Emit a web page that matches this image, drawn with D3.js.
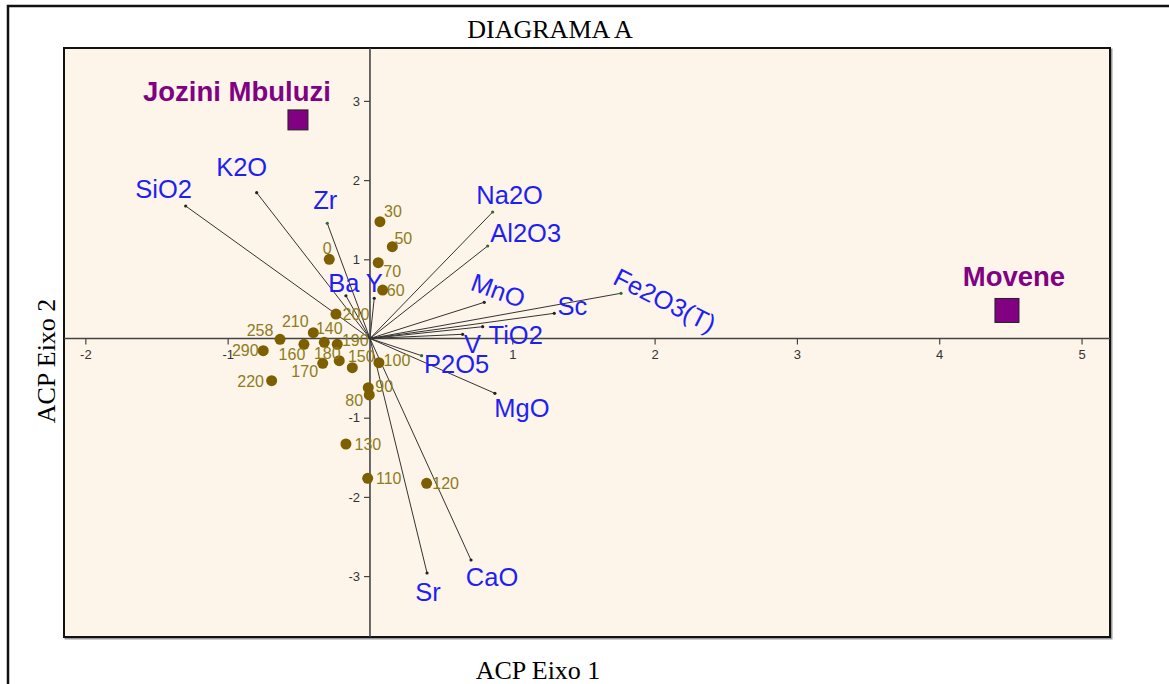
<!DOCTYPE html>
<html>
<head>
<meta charset="utf-8">
<script src="https://cdn.jsdelivr.net/npm/d3@7"></script>
<style>
  html, body { margin: 0; padding: 0; background: #fff; }
  svg { display: block; }
</style>
</head>
<body>
<svg id="chart" width="1169" height="684"></svg>
<script>
// ---------- DATA ----------
const sampleNames = ["0","30","50","70","60","200","210","258","140","190","160","290","180","170","150","100","220","90","80","130","110","120"];
const sampleX = [-0.286,0.070,0.157,0.058,0.089,-0.239,-0.398,-0.632,-0.321,-0.230,-0.464,-0.750,-0.216,-0.332,-0.124,0.063,-0.691,-0.012,-0.005,-0.169,-0.016,0.398];
const sampleY = [1.000,1.475,1.159,0.957,0.612,0.309,0.073,-0.010,-0.048,-0.073,-0.073,-0.154,-0.280,-0.313,-0.369,-0.306,-0.533,-0.621,-0.713,-1.332,-1.765,-1.828];

const varNames = ["SiO2","K2O","Zr","Ba","Y","Na2O","Al2O3","MnO","Fe2O3(T)","Sc","TiO2","V","P2O5","MgO","CaO","Sr"];
const varX = [-1.295,-0.796,-0.300,-0.169,0.030,0.862,0.827,0.803,1.764,1.295,0.792,0.651,0.363,0.878,0.710,0.401];
const varY = [1.673,1.841,1.455,0.540,0.508,1.597,1.168,0.457,0.571,0.318,0.149,0.053,-0.217,-0.692,-2.797,-2.961];

const groupNames = ["Jozini Mbuluzi","Movene"];
const groupX = [-0.506, 4.476];
const groupY = [2.76, 0.354];

const xTicks = [-2,-1,1,2,3,4,5];
const yTicks = [-3,-2,-1,1,2,3];

// ---------- LAYOUT (label offsets in px, rotation) ----------
const sampleLabelOffset = {
  "0":[-2,-11],"30":[13,-10],"50":[11,-8],"70":[14,9],"60":[13,0],"200":[20,0],
  "210":[-18,-11],"258":[-20,-9],"140":[5,-14],"190":[18,-4],"160":[-12,10],
  "290":[-18,0],"180":[-12,-7],"170":[-18,8],"150":[9,-11],"100":[18,-2],
  "220":[-21,1],"90":[16,-1],"80":[-15,5],"130":[22,0],"110":[21,0],"120":[19,0]
};
const varLabelOffset = {
  "SiO2":[-22,-17,0],"K2O":[-15,-26,0],"Zr":[-2,-23,0],"Ba":[-2,-13,0],"Y":[0,-15,0],
  "Na2O":[17,-17,0],"Al2O3":[38,-13,0],"MnO":[14,-12,20],"Fe2O3(T)":[44,7,27],
  "Sc":[18,-8,0],"TiO2":[33,8,0],"V":[10,10,0],"P2O5":[35,8,0],"MgO":[27,15,0],
  "CaO":[21,17,0],"Sr":[1,19,0]
};
const greenTips = new Set(["Zr","Na2O","Al2O3","Fe2O3(T)","P2O5"]);

// ---------- CHART ----------
const svg = d3.select("#chart");
const plot = {left: 64, top: 48, right: 1110, bottom: 637};

const x = d3.scaleLinear().domain([-2.15, 5.2]).range([plot.left, plot.right]);
const y = d3.scaleLinear().domain([-3.769, 3.668]).range([plot.bottom, plot.top]);

// outer frame (only top & left visible)
svg.append("rect").attr("x", 8).attr("y", 6).attr("width", 1200).attr("height", 720)
  .attr("fill", "none").attr("stroke", "#111").attr("stroke-width", 2.5);

// plot background & frame
svg.append("rect").attr("x", plot.left + 1.5).attr("y", plot.top + 1.5)
  .attr("width", plot.right - plot.left).attr("height", plot.bottom - plot.top)
  .attr("fill", "none").attr("stroke", "#999").attr("stroke-width", 2);
svg.append("rect").attr("x", plot.left).attr("y", plot.top)
  .attr("width", plot.right - plot.left).attr("height", plot.bottom - plot.top)
  .attr("fill", "#fdf5ea").attr("stroke", "#111").attr("stroke-width", 2);

// zero axes lines
svg.append("line").attr("x1", plot.left).attr("x2", plot.right)
  .attr("y1", y(0)).attr("y2", y(0)).attr("stroke", "#444").attr("stroke-width", 1.6);
svg.append("line").attr("x1", x(0)).attr("x2", x(0))
  .attr("y1", plot.top).attr("y2", plot.bottom).attr("stroke", "#444").attr("stroke-width", 1.6);

// axes ticks
const xAxis = d3.axisBottom(x).tickValues(xTicks).tickSize(6).tickPadding(5).tickFormat(d => String(d));
const gx = svg.append("g").attr("transform", `translate(0,${y(0)})`).call(xAxis);
const yAxis = d3.axisLeft(y).tickValues(yTicks).tickSize(6).tickPadding(4).tickFormat(d => String(d));
const gy = svg.append("g").attr("transform", `translate(${x(0)},0)`).call(yAxis);
[gx, gy].forEach(g => {
  g.select(".domain").remove();
  g.selectAll(".tick line").attr("stroke", "#444").attr("stroke-width", 1.2);
  g.selectAll(".tick text").attr("fill", "#333")
    .style("font-family", "'Liberation Sans', Arial, sans-serif").style("font-size", "13px");
});

// variable vectors
const vars = varNames.map((n, i) => ({name: n, x: varX[i], y: varY[i]}));
svg.append("g").selectAll("line").data(vars).join("line")
  .attr("x1", x(0)).attr("y1", y(0))
  .attr("x2", d => x(d.x)).attr("y2", d => y(d.y))
  .attr("stroke", "#333").attr("stroke-width", 1);
svg.append("g").selectAll("circle").data(vars).join("circle")
  .attr("cx", d => x(d.x)).attr("cy", d => y(d.y)).attr("r", 1.6)
  .attr("fill", d => greenTips.has(d.name) ? "#2e6b2e" : "#222");

// samples
const samples = sampleNames.map((n, i) => ({name: n, x: sampleX[i], y: sampleY[i]}));
svg.append("g").selectAll("circle").data(samples).join("circle")
  .attr("cx", d => x(d.x)).attr("cy", d => y(d.y)).attr("r", 5.5)
  .attr("fill", "#7d5f00");
svg.append("g").selectAll("text").data(samples).join("text")
  .attr("x", d => x(d.x) + sampleLabelOffset[d.name][0])
  .attr("y", d => y(d.y) + sampleLabelOffset[d.name][1])
  .attr("dy", "0.36em").attr("text-anchor", "middle")
  .attr("fill", "#8f7b1c")
  .style("font-family", "'Liberation Sans', Arial, sans-serif").style("font-size", "16px")
  .text(d => d.name);

// variable labels
svg.append("g").selectAll("text").data(vars).join("text")
  .attr("transform", d => {
    const o = varLabelOffset[d.name];
    return `translate(${x(d.x) + o[0]},${y(d.y) + o[1]}) rotate(${o[2]})`;
  })
  .attr("dy", "0.36em").attr("text-anchor", "middle")
  .attr("fill", "#1f1ff5")
  .style("font-family", "'Liberation Sans', Arial, sans-serif").style("font-size", "25.5px")
  .text(d => d.name);

// group squares
const groups = groupNames.map((n, i) => ({name: n, x: groupX[i], y: groupY[i]}));
const sqSize = {"Jozini Mbuluzi": 20, "Movene": 24};
const grpLabelOffset = {"Jozini Mbuluzi": [-61, -29], "Movene": [7, -34]};
svg.append("g").selectAll("rect").data(groups).join("rect")
  .attr("x", d => x(d.x) - sqSize[d.name] / 2).attr("y", d => y(d.y) - sqSize[d.name] / 2)
  .attr("width", d => sqSize[d.name]).attr("height", d => sqSize[d.name])
  .attr("fill", "#820082").attr("stroke", "#222").attr("stroke-width", 1);
svg.append("g").selectAll("text").data(groups).join("text")
  .attr("x", d => x(d.x) + grpLabelOffset[d.name][0])
  .attr("y", d => y(d.y) + grpLabelOffset[d.name][1])
  .attr("dy", "0.36em").attr("text-anchor", "middle")
  .attr("fill", "#820082").attr("font-weight", "bold")
  .style("font-family", "'Liberation Sans', Arial, sans-serif").style("font-size", "27.5px")
  .text(d => d.name);

// titles
const serif = "'Liberation Serif', 'Times New Roman', serif";
svg.append("text").attr("x", 550).attr("y", 29).attr("dy", "0.35em")
  .attr("text-anchor", "middle").style("font-family", serif).style("font-size", "26px")
  .attr("fill", "#000").text("DIAGRAMA A");
svg.append("text").attr("x", 538).attr("y", 670).attr("dy", "0.35em")
  .attr("text-anchor", "middle").style("font-family", serif).style("font-size", "26px")
  .attr("fill", "#000").text("ACP Eixo 1");
svg.append("text").attr("transform", "translate(46,361) rotate(-90)").attr("dy", "0.35em")
  .attr("text-anchor", "middle").style("font-family", serif).style("font-size", "26px")
  .attr("fill", "#000").text("ACP Eixo 2");
</script>
</body>
</html>
